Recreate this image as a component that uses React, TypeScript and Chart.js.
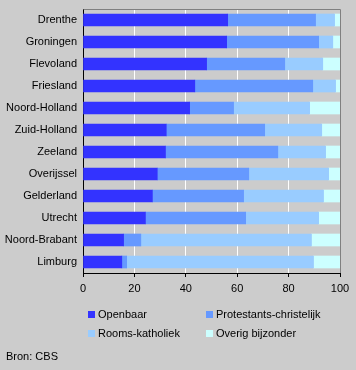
import React, { useEffect, useRef } from "react";
import { Chart, registerables } from "chart.js";

Chart.register(...registerables);

const provinces = [
  "Drenthe",
  "Groningen",
  "Flevoland",
  "Friesland",
  "Noord-Holland",
  "Zuid-Holland",
  "Zeeland",
  "Overijssel",
  "Gelderland",
  "Utrecht",
  "Noord-Brabant",
  "Limburg",
];

const openbaar = [56.3, 55.9, 48.1, 43.5, 41.5, 32.4, 32.1, 28.9, 27.0, 24.3, 15.8, 15.1];
const protestants = [34.2, 35.8, 30.4, 45.9, 17.1, 38.3, 43.7, 35.6, 35.5, 39.0, 6.7, 1.9];
const rooms = [7.4, 5.5, 14.8, 8.9, 29.6, 22.2, 18.6, 31.1, 31.1, 28.4, 66.4, 72.7];
const overig = [2.1, 2.8, 6.7, 1.7, 11.8, 7.1, 5.6, 4.4, 6.4, 8.3, 11.1, 10.3];

const seriesNames = ["Openbaar", "Protestants-christelijk", "Rooms-katholiek", "Overig bijzonder"];
const seriesColors = ["#3333ff", "#6699ff", "#99ccff", "#ccffff"];
const sourceText = "Bron: CBS";

const FONT = "'Liberation Sans', Arial, sans-serif";

const borderPlugin = {
  id: "topRightBorder",
  afterDatasetsDraw(chart: any) {
    const { ctx, chartArea } = chart;
    ctx.save();
    ctx.strokeStyle = "#808080";
    ctx.lineWidth = 1;
    ctx.beginPath();
    ctx.moveTo(Math.round(chartArea.left) + 0.5, Math.round(chartArea.top) + 0.5);
    ctx.lineTo(Math.round(chartArea.right) + 0.5, Math.round(chartArea.top) + 0.5);
    ctx.lineTo(Math.round(chartArea.right) + 0.5, Math.round(chartArea.bottom));
    ctx.stroke();
    ctx.restore();
  },
};

export default function App() {
  const ref = useRef<HTMLCanvasElement | null>(null);

  useEffect(() => {
    if (!ref.current) return;
    const data = [openbaar, protestants, rooms, overig];
    const chart = new Chart(ref.current, {
      type: "bar",
      data: {
        labels: provinces,
        datasets: data.map((d, i) => ({
          label: seriesNames[i],
          data: d,
          backgroundColor: seriesColors[i],
          borderWidth: 0,
          barThickness: 12,
        })),
      },
      options: {
        indexAxis: "y",
        animation: false,
        responsive: false,
        devicePixelRatio: 1,
        layout: { padding: { top: 9, right: 16, left: 0, bottom: 0 } },
        plugins: {
          legend: { display: false },
          tooltip: { enabled: false },
        },
        scales: {
          x: {
            stacked: true,
            min: 0,
            max: 100,
            afterFit: (s: any) => {
              s.height = 97;
              s.paddingLeft = 0;
              s.paddingRight = 0;
            },
            grid: {
              color: (c: any) => (c.index === 0 || c.index === 5 ? "rgba(0,0,0,0)" : "#ffffff"),
              lineWidth: 1,
              tickColor: "#000000",
              tickLength: 4,
            },
            border: { color: "#000000", width: 1 },
            ticks: {
              stepSize: 20,
              color: "#000000",
              font: { family: FONT, size: 11 },
              padding: 5,
              maxRotation: 0,
            },
          },
          y: {
            stacked: true,
            afterFit: (s: any) => {
              s.width = 83;
              s.paddingTop = 0;
              s.paddingBottom = 0;
            },
            grid: { display: false, drawTicks: false },
            border: { color: "#000000", width: 1 },
            ticks: {
              color: "#000000",
              font: { family: FONT, size: 11 },
              padding: 6,
            },
          },
        },
      },
      plugins: [borderPlugin],
    } as any);
    return () => chart.destroy();
  }, []);

  const legendItem = (i: number, left: number, top: number) => (
    <div
      key={i}
      style={{
        position: "absolute",
        left,
        top,
        height: 14,
        display: "flex",
        alignItems: "center",
        fontFamily: FONT,
        fontSize: 11,
        color: "#000",
        whiteSpace: "nowrap",
      }}
    >
      <span
        style={{
          display: "inline-block",
          width: 7,
          height: 7,
          background: seriesColors[i],
          marginRight: 3,
        }}
      />
      <span>{seriesNames[i]}</span>
    </div>
  );

  return (
    <div
      style={{
        position: "absolute",
        left: 0,
        top: 0,
        width: 356,
        height: 370,
        background: "#cccccc",
        overflow: "hidden",
      }}
    >
      <canvas ref={ref} width={356} height={370} style={{ position: "absolute", left: 0, top: 0 }} />
      {legendItem(0, 88, 307)}
      {legendItem(1, 206, 307)}
      {legendItem(2, 88, 326)}
      {legendItem(3, 206, 326)}
      <div
        style={{
          position: "absolute",
          left: 6,
          top: 350,
          fontFamily: FONT,
          fontSize: 11,
          color: "#000",
          whiteSpace: "nowrap",
        }}
      >
        {sourceText}
      </div>
    </div>
  );
}
